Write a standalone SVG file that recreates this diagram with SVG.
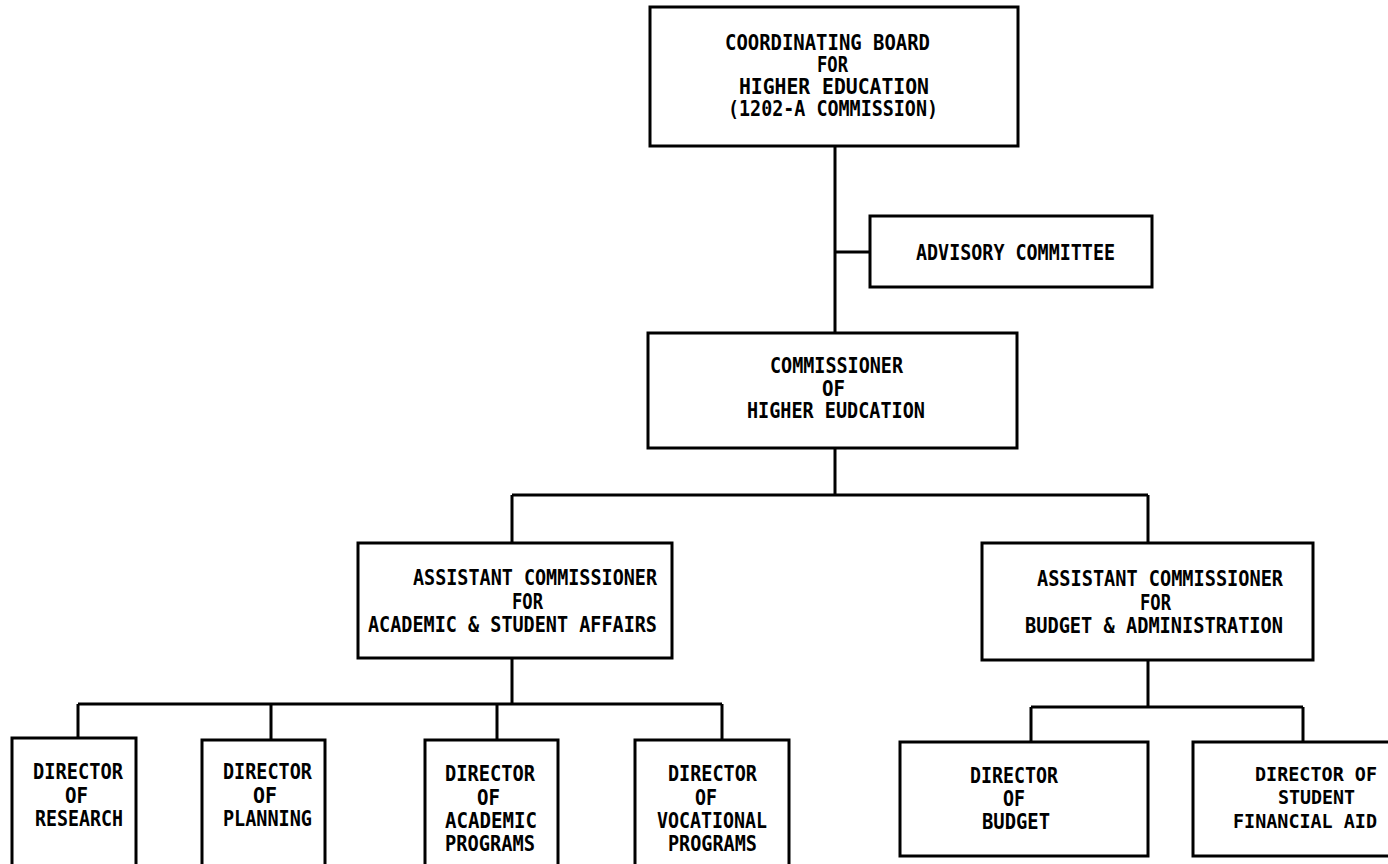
<svg xmlns="http://www.w3.org/2000/svg" width="1388" height="864" viewBox="0 0 1388 864">
<style>
.box{fill:#fff;stroke:#000;stroke-width:3}
.ln{fill:none;stroke:#000;stroke-width:3}
text{font-family:"DejaVu Sans Mono","Liberation Mono",monospace;font-weight:bold;font-size:21px;fill:#000}
.sm{font-size:19px}
</style>
<rect width="1388" height="864" fill="#fff"/>
<g id="connectors">
<path class="ln" d="M835,146 V333 M835,252 H870"/>
<path class="ln" d="M835,448 V495 M512,495 H1148 M512,495 V543 M1148,495 V543"/>
<path class="ln" d="M512,658 V704 M78,704 H722 M78,704 V738 M271,704 V740 M497,704 V740 M722,704 V740"/>
<path class="ln" d="M1148,660 V707 M1031,707 H1303 M1031,707 V742 M1303,707 V742"/>
</g>
<g id="board">
<rect class="box" x="650" y="7" width="368" height="139"/>
<text x="725" y="50" textLength="205" lengthAdjust="spacingAndGlyphs">COORDINATING BOARD</text>
<text x="817" y="72" textLength="31" lengthAdjust="spacingAndGlyphs">FOR</text>
<text x="739" y="94" textLength="190" lengthAdjust="spacingAndGlyphs">HIGHER EDUCATION</text>
<text x="728" y="116" textLength="210" lengthAdjust="spacingAndGlyphs">(1202-A COMMISSION)</text>
</g>
<g id="advisory">
<rect class="box" x="870" y="216" width="282" height="71"/>
<text x="916" y="260" textLength="199" lengthAdjust="spacingAndGlyphs">ADVISORY COMMITTEE</text>
</g>
<g id="commissioner">
<rect class="box" x="648" y="333" width="369" height="115"/>
<text x="770" y="373" textLength="133" lengthAdjust="spacingAndGlyphs">COMMISSIONER</text>
<text x="822" y="396" textLength="23" lengthAdjust="spacingAndGlyphs">OF</text>
<text x="747" y="418" textLength="178" lengthAdjust="spacingAndGlyphs">HIGHER EUDCATION</text>
</g>
<g id="asst-academic">
<rect class="box" x="358" y="543" width="314" height="115"/>
<text x="413" y="585" textLength="244" lengthAdjust="spacingAndGlyphs">ASSISTANT COMMISSIONER</text>
<text x="512" y="609" textLength="31" lengthAdjust="spacingAndGlyphs">FOR</text>
<text x="368" y="632" textLength="289" lengthAdjust="spacingAndGlyphs">ACADEMIC &amp; STUDENT AFFAIRS</text>
</g>
<g id="asst-budget">
<rect class="box" x="982" y="543" width="331" height="117"/>
<text x="1037" y="586" textLength="246" lengthAdjust="spacingAndGlyphs">ASSISTANT COMMISSIONER</text>
<text x="1140" y="610" textLength="31" lengthAdjust="spacingAndGlyphs">FOR</text>
<text x="1025" y="633" textLength="258" lengthAdjust="spacingAndGlyphs">BUDGET &amp; ADMINISTRATION</text>
</g>
<g id="dir-research">
<rect class="box" x="12" y="738" width="124" height="140"/>
<text x="33" y="779" textLength="90" lengthAdjust="spacingAndGlyphs">DIRECTOR</text>
<text x="65" y="803" textLength="23" lengthAdjust="spacingAndGlyphs">OF</text>
<text x="35" y="826" textLength="88" lengthAdjust="spacingAndGlyphs">RESEARCH</text>
</g>
<g id="dir-planning">
<rect class="box" x="202" y="740" width="123" height="140"/>
<text x="223" y="779" textLength="89" lengthAdjust="spacingAndGlyphs">DIRECTOR</text>
<text x="253" y="803" textLength="24" lengthAdjust="spacingAndGlyphs">OF</text>
<text x="223" y="826" textLength="89" lengthAdjust="spacingAndGlyphs">PLANNING</text>
</g>
<g id="dir-academic">
<rect class="box" x="425" y="740" width="133" height="140"/>
<text x="445" y="781" textLength="90" lengthAdjust="spacingAndGlyphs">DIRECTOR</text>
<text x="477" y="805" textLength="23" lengthAdjust="spacingAndGlyphs">OF</text>
<text x="445" y="828" textLength="92" lengthAdjust="spacingAndGlyphs">ACADEMIC</text>
<text x="445" y="851" textLength="90" lengthAdjust="spacingAndGlyphs">PROGRAMS</text>
</g>
<g id="dir-vocational">
<rect class="box" x="635" y="740" width="154" height="140"/>
<text x="668" y="781" textLength="89" lengthAdjust="spacingAndGlyphs">DIRECTOR</text>
<text x="695" y="805" textLength="22" lengthAdjust="spacingAndGlyphs">OF</text>
<text x="657" y="828" textLength="110" lengthAdjust="spacingAndGlyphs">VOCATIONAL</text>
<text x="668" y="851" textLength="89" lengthAdjust="spacingAndGlyphs">PROGRAMS</text>
</g>
<g id="dir-budget">
<rect class="box" x="900" y="742" width="248" height="114"/>
<text x="970" y="783" textLength="88" lengthAdjust="spacingAndGlyphs">DIRECTOR</text>
<text x="1003" y="806" textLength="22" lengthAdjust="spacingAndGlyphs">OF</text>
<text x="982" y="829" textLength="68" lengthAdjust="spacingAndGlyphs">BUDGET</text>
</g>
<g id="dir-financial-aid">
<rect class="box" x="1193" y="742" width="220" height="114"/>
<text class="sm" x="1255" y="781" textLength="122" lengthAdjust="spacingAndGlyphs">DIRECTOR OF</text>
<text class="sm" x="1278" y="804" textLength="77" lengthAdjust="spacingAndGlyphs">STUDENT</text>
<text class="sm" x="1233" y="828" textLength="144" lengthAdjust="spacingAndGlyphs">FINANCIAL AID</text>
</g>
</svg>
